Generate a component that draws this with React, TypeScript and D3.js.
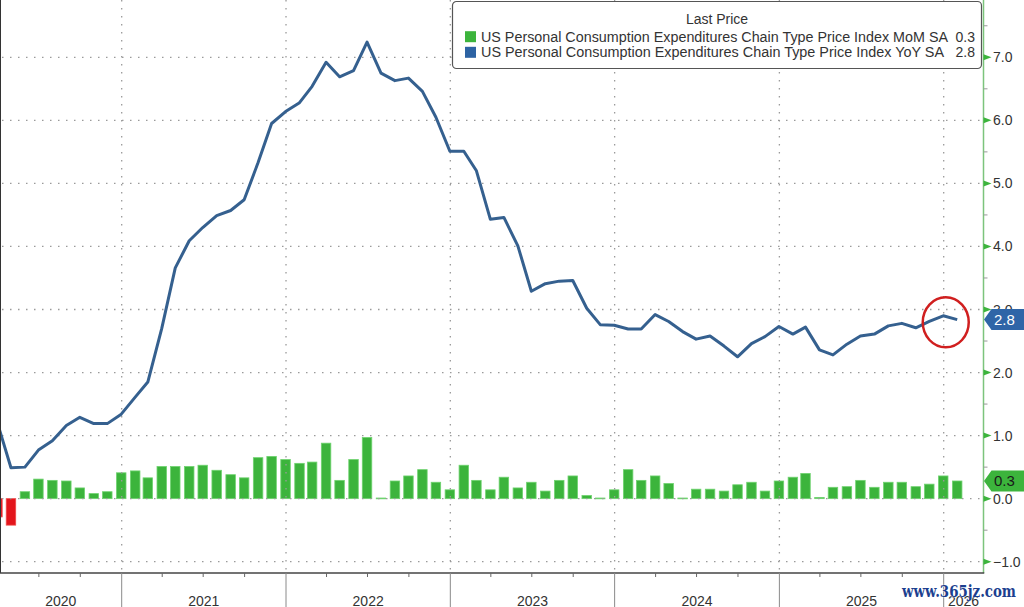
import { useEffect, useRef } from 'react'
import * as d3 from 'd3'

// monthly observations, Mar 2020 .. Jan 2026 (dated at month end)
const FIRST_MONTH = new Date(2020, 2, 1)
const LAST_MONTH = new Date(2026, 0, 1)

const MOM = [
  -0.29, -0.42, 0.11, 0.31, 0.29, 0.28, 0.17, 0.08, 0.11, 0.41,
  0.44, 0.33, 0.51, 0.51, 0.51, 0.53, 0.45, 0.38, 0.33, 0.65, 0.67, 0.62,
  0.56, 0.58, 0.88, 0.29, 0.62, 0.97, 0.01, 0.28, 0.36, 0.46, 0.26, 0.14,
  0.53, 0.29, 0.14, 0.34, 0.17, 0.26, 0.12, 0.29, 0.36, 0.05, 0.01, 0.14,
  0.46, 0.29, 0.36, 0.24, 0.01, 0.15, 0.15, 0.12, 0.22, 0.26, 0.12, 0.28,
  0.34, 0.40, 0.02, 0.18, 0.19, 0.29, 0.18, 0.26, 0.26, 0.19, 0.23, 0.36,
  0.28
]

const YOY = [
  1.2, 0.49, 0.5, 0.77, 0.92, 1.16, 1.29, 1.19, 1.19, 1.34,
  1.61, 1.85, 2.7, 3.66, 4.09, 4.3, 4.49, 4.57, 4.74, 5.33, 5.95, 6.14,
  6.28, 6.54, 6.92, 6.69, 6.79, 7.24, 6.75, 6.63, 6.67, 6.46, 6.05, 5.51,
  5.51, 5.2, 4.43, 4.46, 4.01, 3.29, 3.41, 3.45, 3.46, 3.02, 2.76, 2.75,
  2.69, 2.69, 2.92, 2.81, 2.65, 2.53, 2.58, 2.42, 2.25, 2.46, 2.57, 2.73,
  2.61, 2.72, 2.36, 2.28, 2.45, 2.58, 2.61, 2.74, 2.78, 2.71, 2.81, 2.9,
  2.84
]

const YEARS = [2020, 2021, 2022, 2023, 2024, 2025, 2026]
const Y_TICKS = [-1, 0, 1, 2, 3, 4, 5, 6, 7]
const Y_MINOR = [-0.5, 0.5, 1.5, 2.5, 3.5, 4.5, 5.5, 6.5, 7.5]

const LEGEND_TITLE = 'Last Price'
const LEGEND = [
  { name: 'US Personal Consumption Expenditures Chain Type Price Index MoM SA', last: '0.3', color: '#3cb43c' },
  { name: 'US Personal Consumption Expenditures Chain Type Price Index YoY SA', last: '2.8', color: '#2d63a3' }
]

const GREEN = '#3cb43c'
const RED = '#e3151c'
const LINE = '#35608f'
const FONT = '"Liberation Sans", Arial, sans-serif'

export default function App() {
  const svgRef = useRef<SVGSVGElement>(null)
  const width = 1024
  const height = 607

  useEffect(() => {
    if (!svgRef.current) return
    const svg = d3.select(svgRef.current)
    svg.selectAll('*').remove()

    const plotRight = 983.5
    const axisY = 573

    const x = d3.scaleTime()
      .domain([new Date(2021, 0, 1), new Date(2026, 0, 1)])
      .range([121.7, 943.7])
    const y = d3.scaleLinear().domain([-1, 7]).range([561.7, 57.3])

    const months = d3.timeMonth.range(FIRST_MONTH, d3.timeMonth.offset(LAST_MONTH, 1))
    const monthEnd = (m: Date) => d3.timeDay.offset(d3.timeMonth.offset(m, 1), -1)
    const rows = months.map((m, i) => ({ date: monthEnd(m), mom: MOM[i], yoy: YOY[i] }))

    const step = x(new Date(2021, 1, 1)) - x(new Date(2021, 0, 1))
    const barW = step * 0.68

    svg.append('rect').attr('width', width).attr('height', height).attr('fill', '#fff')

    // bars
    svg.append('g')
      .selectAll('rect')
      .data(rows)
      .enter()
      .append('rect')
      .attr('x', d => x(d.date) - barW / 2)
      .attr('width', barW)
      .attr('y', d => y(Math.max(0, d.mom)))
      .attr('height', d => Math.max(0.8, Math.abs(y(d.mom) - y(0))))
      .attr('fill', d => d.mom < 0 ? RED : GREEN)
      .attr('stroke', d => d.mom < 0 ? '#f04a4a' : '#6fd36f')
      .attr('stroke-width', 0.8)

    // grid
    const grid = svg.append('g')
      .attr('stroke', '#9a9a9a')
      .attr('stroke-width', 1.3)
      .attr('stroke-dasharray', '1.5,6.5')
    grid.selectAll('line.h')
      .data(Y_TICKS)
      .enter()
      .append('line')
      .attr('x1', 2).attr('x2', plotRight)
      .attr('y1', d => y(d)).attr('y2', d => y(d))
    grid.selectAll('line.v')
      .data(YEARS.slice(1))
      .enter()
      .append('line')
      .attr('x1', d => x(new Date(d, 0, 1))).attr('x2', d => x(new Date(d, 0, 1)))
      .attr('y1', 0).attr('y2', axisY)

    // yoy line
    const line = d3.line<{ date: Date; yoy: number }>()
      .x(d => x(d.date))
      .y(d => y(d.yoy))
    svg.append('path')
      .datum(rows)
      .attr('d', line)
      .attr('fill', 'none')
      .attr('stroke', LINE)
      .attr('stroke-width', 3)
      .attr('stroke-linejoin', 'round')

    // legend
    const lg = svg.append('g').attr('font-family', FONT).attr('font-size', 14).attr('fill', '#333')
    lg.append('rect')
      .attr('x', 452.5).attr('y', 1.5).attr('width', 529).attr('height', 67)
      .attr('rx', 4).attr('fill', '#fff').attr('stroke', '#555').attr('stroke-width', 1.2)
    lg.append('text').attr('x', 717).attr('y', 24).attr('text-anchor', 'middle').text(LEGEND_TITLE)
    LEGEND.forEach((s, i) => {
      const base = 41.7 + i * 15.6
      lg.append('rect').attr('x', 465).attr('y', base - 10.5).attr('width', 11).attr('height', 11).attr('fill', s.color)
      lg.append('text').attr('x', 481).attr('y', base)
        .attr('textLength', i === 0 ? 467 : 463).attr('lengthAdjust', 'spacingAndGlyphs')
        .text(s.name)
      lg.append('text').attr('x', 975).attr('y', base).attr('text-anchor', 'end').text(s.last)
    })

    // left border
    svg.append('line').attr('x1', 0.5).attr('x2', 0.5).attr('y1', 0).attr('y2', axisY).attr('stroke', '#333').attr('stroke-width', 1)

    // right axis
    const ax = svg.append('g').attr('font-family', FONT).attr('font-size', 14).attr('fill', '#333')
    ax.append('line').attr('x1', plotRight).attr('x2', plotRight).attr('y1', 0).attr('y2', axisY)
      .attr('stroke', '#7cc47c').attr('stroke-width', 1.5)
    ax.selectAll('line.minor')
      .data(Y_MINOR)
      .enter()
      .append('line')
      .attr('x1', plotRight).attr('x2', plotRight + 4)
      .attr('y1', d => y(d)).attr('y2', d => y(d))
      .attr('stroke', '#999')
    ax.selectAll('path.tick')
      .data(Y_TICKS)
      .enter()
      .append('path')
      .attr('d', d => `M${plotRight},${y(d) - 3}L${plotRight + 8},${y(d)}L${plotRight},${y(d) + 3}Z`)
      .attr('fill', GREEN)
    ax.selectAll('text')
      .data(Y_TICKS)
      .enter()
      .append('text')
      .attr('x', 993).attr('y', d => y(d))
      .attr('dy', '0.36em')
      .text(d => d3.format('.1f')(d))

    // bottom axis
    const bx = svg.append('g').attr('font-family', FONT).attr('font-size', 14).attr('fill', '#333')
    bx.append('line').attr('x1', 0).attr('x2', plotRight + 0.75).attr('y1', axisY).attr('y2', axisY)
      .attr('stroke', '#444').attr('stroke-width', 1.5)
    const quarters = d3.timeMonth.every(3)!.range(new Date(2020, 0, 1), new Date(2026, 3, 1))
    bx.selectAll('line.q')
      .data(quarters.filter(q => q.getMonth() !== 0))
      .enter()
      .append('line')
      .attr('x1', d => x(d)).attr('x2', d => x(d))
      .attr('y1', axisY).attr('y2', axisY + 4)
      .attr('stroke', '#666')
    bx.selectAll('line.yr')
      .data(YEARS.slice(1))
      .enter()
      .append('line')
      .attr('x1', d => x(new Date(d, 0, 1))).attr('x2', d => x(new Date(d, 0, 1)))
      .attr('y1', axisY).attr('y2', height)
      .attr('stroke', '#8a8a8a')
    bx.selectAll('text')
      .data(YEARS)
      .enter()
      .append('text')
      .attr('x', d => {
        const a = Math.max(0, x(new Date(d, 0, 1)))
        const b = Math.min(plotRight, x(new Date(d + 1, 0, 1)))
        return (a + b) / 2
      })
      .attr('y', 606)
      .attr('text-anchor', 'middle')
      .text(d => String(d))

    // last value flags
    const flag = (v: number, label: string, fill: string, textFill: string) => {
      const cy = y(v)
      const g = svg.append('g')
      g.append('path')
        .attr('d', `M${plotRight + 0.5},${cy}L${plotRight + 8},${cy - 10.5}L${width},${cy - 10.5}L${width},${cy + 10.5}L${plotRight + 8},${cy + 10.5}Z`)
        .attr('fill', fill)
      g.append('text')
        .attr('x', 994).attr('y', cy).attr('dy', '0.36em')
        .attr('font-family', FONT).attr('font-size', 15).attr('fill', textFill)
        .text(label)
    }
    flag(YOY[YOY.length - 1], LEGEND[1].last, '#2f65a7', '#fff')
    flag(MOM[MOM.length - 1], LEGEND[0].last, GREEN, '#1a1a1a')

    // annotation circle
    const last = rows[rows.length - 2]
    svg.append('ellipse')
      .attr('cx', x(last.date) + 2.5).attr('cy', y(last.yoy) + 6.5)
      .attr('rx', 23).attr('ry', 25)
      .attr('fill', 'none').attr('stroke', '#d01f1f').attr('stroke-width', 2.5)

    // watermark
    svg.append('text')
      .attr('x', 902).attr('y', 597)
      .attr('textLength', 114).attr('lengthAdjust', 'spacingAndGlyphs')
      .attr('font-family', '"DejaVu Serif", serif').attr('font-weight', 'bold').attr('font-size', 17)
      .attr('fill', '#1c3f8f').attr('stroke', '#fff').attr('stroke-width', 0.5).attr('paint-order', 'stroke')
      .text('www.365jz.com')
  }, [])

  return (
    <div style={{ position: 'absolute', left: 0, top: 0 }}>
      <svg ref={svgRef} width={width} height={height} style={{ display: 'block' }} />
    </div>
  )
}
